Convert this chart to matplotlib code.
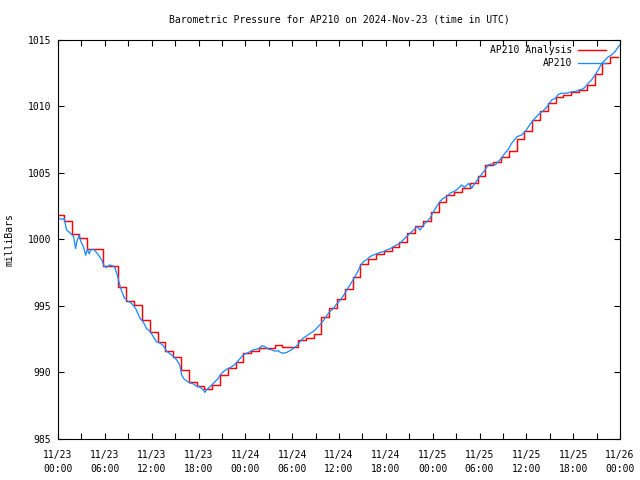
import numpy as np
import matplotlib
matplotlib.use("Agg")
import matplotlib.pyplot as plt
from matplotlib.ticker import MultipleLocator, FixedLocator

# ---- data ----
title = "Barometric Pressure for AP210 on 2024-Nov-23 (time in UTC)"
y_label = "milliBars"
x_tick_hours = [0, 6, 12, 18, 24, 30, 36, 42, 48, 54, 60, 66, 72]
x_tick_labels = ["11/23\n00:00", "11/23\n06:00", "11/23\n12:00", "11/23\n18:00",
                 "11/24\n00:00", "11/24\n06:00", "11/24\n12:00", "11/24\n18:00",
                 "11/25\n00:00", "11/25\n06:00", "11/25\n12:00", "11/25\n18:00",
                 "11/26\n00:00"]

# hourly analysis values (hour 0 .. 72)
analysis_hours = list(range(73))
analysis_mb = [1001.8, 1001.4, 1000.4, 1000.1, 999.25, 999.25, 998.0, 998.0, 996.4, 995.4,
               995.1, 993.9, 993.0, 992.25, 991.6, 991.15, 990.2, 989.25, 989.0, 988.75,
               989.05, 989.8, 990.3, 990.77, 991.44, 991.6, 991.8, 991.85, 992.07, 991.9,
               991.88, 992.4, 992.55, 992.85, 994.14, 994.82, 995.52, 996.27, 997.15, 998.12,
               998.52, 998.87, 999.14, 999.44, 999.77, 1000.5, 1001.02, 1001.37, 1002.07, 1002.78,
               1003.33, 1003.53, 1003.87, 1004.25, 1004.78, 1005.58, 1005.78, 1006.2, 1006.65, 1007.53,
               1008.15, 1008.96, 1009.63, 1010.25, 1010.7, 1010.83, 1011.04, 1011.2, 1011.58, 1012.39,
               1013.2, 1013.66, 1013.7]

# station observations
obs_hours = [0.0, 0.4, 0.8, 1.1, 1.5, 2.0, 2.25, 2.4, 2.7, 2.95, 3.25, 3.55, 3.75, 4.0, 4.2, 4.5,
             4.8, 5.2, 5.6, 5.9, 6.2, 6.6, 7.0, 7.3, 7.65, 7.85, 8.15, 8.5, 8.9, 9.4, 9.95, 10.5,
             10.9, 11.35, 11.8, 12.2, 12.6, 13.1, 13.5, 13.9, 14.35, 14.8, 15.2, 15.6, 15.85, 16.15,
             16.5, 16.9, 17.35, 17.8, 18.2, 18.6, 18.8, 19.05, 19.25, 19.7, 20.1, 20.55, 20.75, 21.2,
             21.6, 22.0, 22.45, 22.9, 23.3, 23.7, 24.2, 24.6, 25.0, 25.45, 25.9, 26.1, 26.5, 26.95,
             27.4, 27.8, 28.2, 28.5, 28.85, 29.3, 29.7, 30.15, 30.6, 31.0, 31.4, 31.85, 32.3, 32.7,
             33.1, 33.6, 34.0, 34.4, 34.8, 35.3, 35.7, 36.1, 36.55, 37.0, 37.4, 37.8, 38.3, 38.7,
             39.1, 39.6, 40.0, 40.4, 40.8, 41.2, 41.7, 42.1, 42.5, 42.95, 43.4, 43.8, 44.2, 44.65,
             45.1, 45.5, 45.95, 46.4, 46.8, 47.2, 47.65, 48.1, 48.5, 48.9, 49.35, 49.8, 50.2, 50.65,
             51.05, 51.5, 51.7, 52.1, 52.6, 53.0, 53.4, 53.9, 54.3, 54.7, 55.1, 55.55, 56.0, 56.4,
             56.8, 57.25, 57.7, 58.1, 58.8, 59.4, 60.0, 60.5, 61.1, 61.5, 62.0, 62.4, 62.8, 63.25,
             63.7, 64.1, 64.5, 64.95, 65.4, 65.8, 66.2, 66.7, 67.1, 67.5, 67.9, 68.35, 68.8, 69.2,
             69.65, 70.1, 70.5, 70.9, 71.35, 71.8, 72.0]
obs_mb = [1001.6, 1001.5, 1001.55, 1000.7, 1000.5, 1000.2, 999.3, 999.8, 1000.3, 999.8, 999.45,
          998.8, 999.25, 998.9, 999.2, 999.25, 999.1, 998.8, 998.45, 998.0, 997.87, 998.07, 998.0,
          997.85, 997.2, 996.7, 996.1, 995.6, 995.37, 995.2, 994.8, 994.07, 993.8, 993.3, 993.06,
          992.7, 992.3, 992.2, 992.0, 991.6, 991.4, 991.2, 990.94, 990.56, 989.8, 989.5, 989.36,
          989.2, 989.14, 988.94, 988.9, 988.7, 988.5, 988.7, 988.8, 989.06, 989.3, 989.56, 989.8,
          990.06, 990.24, 990.35, 990.5, 990.75, 991.03, 991.3, 991.44, 991.56, 991.7, 991.74,
          991.86, 992.0, 991.94, 991.74, 991.7, 991.6, 991.63, 991.5, 991.44, 991.5, 991.63, 991.8,
          992.0, 992.3, 992.57, 992.74, 992.94, 993.06, 993.3, 993.6, 993.9, 994.24, 994.56, 994.82,
          995.14, 995.39, 995.74, 996.2, 996.57, 996.94, 997.45, 997.95, 998.3, 998.5, 998.7,
          998.82, 998.9, 999.0, 999.07, 999.2, 999.27, 999.44, 999.57, 999.7, 999.94, 1000.2,
          1000.45, 1000.65, 1000.95, 1000.7, 1001.07, 1001.3, 1001.57, 1002.07, 1002.45, 1002.82,
          1003.07, 1003.2, 1003.45, 1003.57, 1003.7, 1003.95, 1004.07, 1003.9, 1004.2, 1003.83,
          1004.2, 1004.58, 1004.9, 1005.2, 1005.58, 1005.66, 1005.58, 1005.83, 1006.08, 1006.46,
          1006.75, 1007.2, 1007.7, 1007.83, 1008.2, 1008.66, 1009.08, 1009.33, 1009.58, 1009.78,
          1010.08, 1010.46, 1010.58, 1010.88, 1010.96, 1010.96, 1011.0, 1011.08, 1011.08, 1011.2,
          1011.25, 1011.4, 1011.7, 1011.96, 1012.33, 1012.7, 1013.2, 1013.46, 1013.7, 1013.83,
          1014.08, 1014.46, 1014.6]

# ---- plot ----
plt.rcParams['font.family'] = ['DejaVu Sans Mono']
plt.rcParams['font.size'] = 7

fig = plt.figure(figsize=(6.4, 4.8), dpi=100)
ax = fig.add_axes([58/640, 41/480, 562/640, 399.5/480])

step_offset = 0.25
ax.plot(np.array(analysis_hours) - step_offset, analysis_mb, drawstyle='steps-post',
        color='#ff0000', lw=1.05, label='AP210 Analysis')
ax.plot(obs_hours, obs_mb, color='#1e8cff', lw=0.95, label='AP210')

ax.set_xlim(0, 72)
ax.set_ylim(985, 1015)
ax.xaxis.set_major_locator(FixedLocator(x_tick_hours))
ax.set_xticklabels(x_tick_labels, linespacing=1.45)
ax.xaxis.set_minor_locator(MultipleLocator(3))
ax.yaxis.set_major_locator(MultipleLocator(5))
ax.tick_params(which='both', direction='in', top=True, right=True, length=4, width=0.8,
               labelsize=7)
ax.tick_params(axis='x', pad=8)
ax.tick_params(axis='y', pad=5)
for s in ax.spines.values():
    s.set_linewidth(0.8)

ax.set_title(title, fontsize=7, pad=12)
ax.set_ylabel(y_label, fontsize=7)
ax.yaxis.set_label_coords(-0.077, 0.5)

leg = ax.legend(loc='upper right', bbox_to_anchor=(1 - 8/562, 1), frameon=False,
                markerfirst=False, fontsize=7, handlelength=2.9, handletextpad=0.6,
                labelspacing=0.3, borderaxespad=0.2)

fig.savefig('out.png', dpi=100)
